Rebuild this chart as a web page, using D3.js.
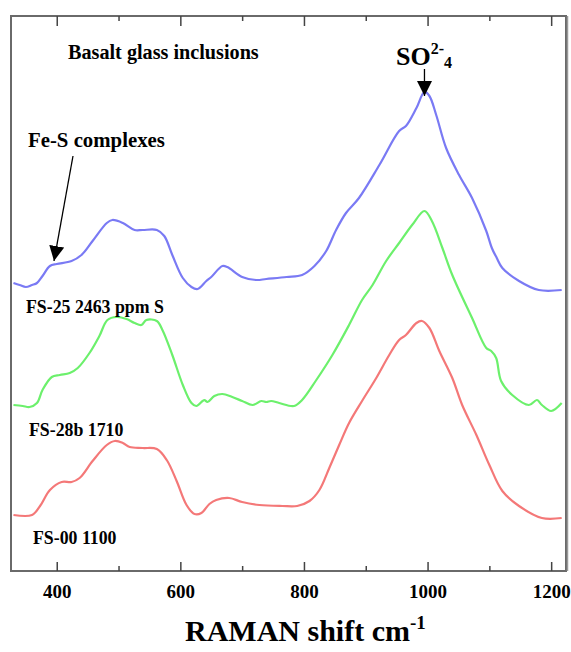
<!DOCTYPE html>
<html>
<head>
<meta charset="utf-8">
<script src="https://cdn.jsdelivr.net/npm/d3@7"></script>
<style>
  html, body { margin: 0; padding: 0; background: #fff; }
  svg { display: block; }
  text { font-family: "Liberation Serif", "Times New Roman", serif; font-weight: bold; fill: #000; }
</style>
</head>
<body>
<svg id="chart" width="571" height="652"></svg>
<script>
// ---- data (Raman shift cm-1, offset intensity) ----
const fs25Shift = [330,340,350,360,368,377,389,400,424,440,458,481,490,507,526,539,562,574,587,604,618,628,642,650,668,676,700,723,739,772,797,817,836,852,868,889,922,954,965,982,995,1003,1014,1030,1051,1072,1095,1104,1112,1121,1148,1180,1217];
const fs25Int   = [288,286,284,286,288,295,305,307,310,316,330,348,351,348,341,341,341,335,316,293,284,282,290,294,305,304,294,291,292,294,296,305,320,341,358,373,406,440,445,463,479,475,456,423,396,373,340,323,313,303,290,281,281];

const fs28Shift = [330,345,356,368,377,392,405,421,434,453,469,482,497,513,526,537,545,562,571,587,604,618,626,636,639,644,655,668,684,700,717,731,739,747,760,784,797,820,846,873,894,911,933,954,975,995,1007,1024,1040,1072,1095,1103,1111,1119,1137,1164,1177,1185,1200,1217];
const fs28Int   = [166,165,164,168,181,194,196,198,203,218,235,251,254,252,248,246,251,250,241,216,186,168,165,170,171,169,175,177,174,170,166,170,169,170,168,165,171,191,216,246,271,286,310,328,346,360,350,323,296,253,223,220,213,190,176,166,171,166,160,168];

const fs00Shift = [330,360,373,389,408,424,437,458,481,494,507,518,539,562,578,594,610,623,634,647,658,679,700,728,765,789,809,825,841,857,873,894,917,938,954,965,982,991,1003,1019,1040,1056,1079,1100,1121,1148,1185,1217];
const fs00Int   = [56,56,65,81,89,89,93,110,126,130,128,124,123,122,111,90,66,57,58,67,71,73,69,66,65,65,70,81,103,126,148,170,193,216,231,236,248,250,243,220,193,166,136,106,80,65,53,53];

const seriesNames  = ["FS-25 2463 ppm S", "FS-28b 1710", "FS-00 1100"];
const seriesColors = ["#7a7af4", "#6cf06c", "#f47878"];
const majorTicks = [400, 600, 800, 1000, 1200];
const minorTicks = [500, 700, 900, 1100];
const xTitle = "RAMAN shift cm";

// ---- layout ----
const svg = d3.select("#chart");
const L = 11, R = 566, T = 16, B = 571;
const x = d3.scaleLinear().domain([326, 1224]).range([L, R]);
const y = d3.scaleLinear().domain([0, 555]).range([B, T]);

// frame
svg.append("rect").attr("x", L).attr("y", T).attr("width", R - L).attr("height", B - T)
  .attr("fill", "none").attr("stroke", "#6a6a6a").attr("stroke-width", 2);
svg.append("line").attr("x1", R + 1.5).attr("x2", R + 1.5).attr("y1", T).attr("y2", B)
  .attr("stroke", "#9a9a9a").attr("stroke-width", 1.5);

// axes (ticks inside)
function axisG(gen, yPos) {
  const g = svg.append("g").attr("transform", `translate(0,${yPos})`).call(gen);
  g.select(".domain").remove();
  g.selectAll("line").attr("stroke", "#444").attr("stroke-width", 1.5);
  return g;
}
const bMaj = axisG(d3.axisBottom(x).tickValues(majorTicks).tickSize(-9).tickPadding(14).tickFormat(d3.format("d")), B);
bMaj.selectAll("text").attr("font-size", 19).attr("font-family", "Liberation Serif").attr("font-weight", "bold").attr("dy", "0.71em");
axisG(d3.axisBottom(x).tickValues(minorTicks).tickSize(-5).tickFormat(""), B);
axisG(d3.axisTop(x).tickValues(majorTicks).tickSize(-10).tickFormat(""), T);
axisG(d3.axisTop(x).tickValues(minorTicks).tickSize(-5).tickFormat(""), T);

// spectra
const line = d3.line().x(d => x(d[0])).y(d => y(d[1])).curve(d3.curveCatmullRom.alpha(0.5));
const all = [
  d3.zip(fs25Shift, fs25Int),
  d3.zip(fs28Shift, fs28Int),
  d3.zip(fs00Shift, fs00Int)
];
all.forEach((pts, i) => {
  svg.append("path").datum(pts).attr("d", line)
    .attr("fill", "none").attr("stroke", seriesColors[i]).attr("stroke-width", 2.2)
    .attr("stroke-linejoin", "round");
});

// series labels
const labelPos = [[26, 313], [29, 436], [33, 544]];
seriesNames.forEach((s, i) => {
  svg.append("text").attr("x", labelPos[i][0]).attr("y", labelPos[i][1])
    .attr("font-size", 17.8).text(s);
});

// annotations
svg.append("text").attr("x", 68).attr("y", 59).attr("font-size", 20.2).text("Basalt glass inclusions");
svg.append("text").attr("x", 28).attr("y", 147).attr("font-size", 20.8).text("Fe-S complexes");

// SO4 2- label
const so = svg.append("text").attr("x", 396).attr("y", 65).attr("font-size", 26);
so.append("tspan").text("SO");
so.append("tspan").attr("font-size", 16).attr("dy", -11).text("2-");
so.append("tspan").attr("font-size", 16).attr("dy", 14).text("4");

// arrows
const defs = svg.append("defs");
defs.append("marker").attr("id", "ah").attr("viewBox", "0 0 10 10").attr("refX", 10).attr("refY", 5)
  .attr("markerWidth", 15).attr("markerHeight", 15).attr("markerUnits", "userSpaceOnUse").attr("orient", "auto")
  .append("path").attr("d", "M0,0 L10,5 L0,10 Z").attr("fill", "#000");
svg.append("line").attr("x1", x(995)).attr("x2", x(995)).attr("y1", 69).attr("y2", 96)
  .attr("stroke", "#000").attr("stroke-width", 1.3).attr("marker-end", "url(#ah)");
svg.append("line").attr("x1", 73).attr("y1", 156).attr("x2", 54).attr("y2", 261)
  .attr("stroke", "#000").attr("stroke-width", 1.3).attr("marker-end", "url(#ah)");

// x title
const xt = svg.append("text").attr("x", 185).attr("y", 641).attr("font-size", 30);
xt.append("tspan").text(xTitle);
xt.append("tspan").attr("font-size", 19).attr("dy", -12).text("-1");
</script>
</body>
</html>
